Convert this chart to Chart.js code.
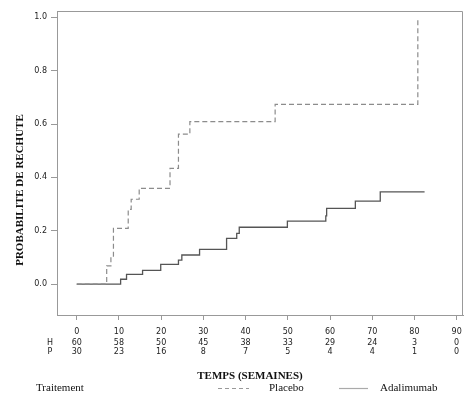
<!DOCTYPE html>
<html>
<head>
<meta charset="utf-8">
<script src="https://cdn.jsdelivr.net/npm/chart.js@4"></script>
<style>
  html, body { margin: 0; padding: 0; background: #fff; }
  canvas { display: block; }
</style>
</head>
<body>
<canvas id="kmChart" width="473" height="396"></canvas>
<script>
// données (temps en semaines, probabilité cumulée)
const placeboT = [0, 7.1, 8.1, 8.7, 12.2, 12.9, 14.8, 22.1, 24.1, 26.8, 47.0, 80.8];
const placeboP = [0, 0.068, 0.102, 0.209, 0.28, 0.318, 0.359, 0.434, 0.562, 0.609, 0.674, 1.0];

const adaT = [0, 10.4, 11.8, 15.6, 19.9, 24.1, 24.9, 29.1, 35.5, 37.9, 38.5, 49.9, 59.0, 59.2, 66.0, 71.9, 82.4];
const adaP = [0, 0.018, 0.036, 0.051, 0.074, 0.09, 0.109, 0.130, 0.171, 0.19, 0.213, 0.236, 0.256, 0.284, 0.311, 0.346, 0.346];

// ticks + effectifs à risque
const xTicks = [0, 10, 20, 30, 40, 50, 60, 70, 80, 90];
const yTicks = [0, 0.2, 0.4, 0.6, 0.8, 1.0];
const riskH = [60, 58, 50, 45, 38, 33, 29, 24, 3, 0];
const riskP = [30, 23, 16, 8, 7, 5, 4, 4, 1, 0];

const tickFont = { family: "DejaVu Sans", size: 8 };
const serif = "'Liberation Serif', 'DejaVu Serif', serif";

// ======= cadre, titres, tableau, légende =======
const extras = {
    id: "extras",
    afterDraw(chart) {
        const c = chart.ctx;
        const a = chart.chartArea;
        const xs = chart.scales.x;

        c.save();
        // cadre haut / droite
        c.strokeStyle = "#999";
        c.lineWidth = 1;
        c.beginPath();
        c.moveTo(a.left, a.top + 0.5);
        c.lineTo(a.right - 0.5, a.top + 0.5);
        c.lineTo(a.right - 0.5, a.bottom);
        c.stroke();

        // titre axe Y
        c.fillStyle = "#111";
        c.font = "bold 11px " + serif;
        c.textAlign = "center";
        c.textBaseline = "middle";
        c.save();
        c.translate(20, 190);
        c.rotate(-Math.PI / 2);
        c.fillText("PROBABILITE DE RECHUTE", 0, 0);
        c.restore();

        // tableau des sujets à risque
        c.font = "8px 'DejaVu Sans'";
        c.fillStyle = "#222";
        c.fillText("H", 50, 342.5);
        c.fillText("P", 50, 352);
        xTicks.forEach((t, i) => {
            const px = xs.getPixelForValue(t);
            c.fillText(String(riskH[i]), px, 342.5);
            c.fillText(String(riskP[i]), px, 352);
        });

        // titre axe X
        c.fillStyle = "#111";
        c.font = "bold 11px " + serif;
        c.fillText("TEMPS (SEMAINES)", 250, 376);

        // légende
        c.font = "11px " + serif;
        c.textAlign = "left";
        c.fillText("Traitement", 36, 388);
        c.fillText("Placebo", 269, 388);
        c.fillText("Adalimumab", 380, 388);

        c.strokeStyle = "#999";
        c.lineWidth = 1.2;
        c.setLineDash([4, 3]);
        c.beginPath();
        c.moveTo(218, 388.5);
        c.lineTo(249, 388.5);
        c.stroke();
        c.setLineDash([]);
        c.strokeStyle = "#aaa";
        c.beginPath();
        c.moveTo(339, 388.5);
        c.lineTo(368, 388.5);
        c.stroke();
        c.restore();
    }
};

new Chart(document.getElementById("kmChart"), {
    type: "line",
    data: {
        datasets: [
            {
                label: "Placebo",
                data: placeboT.map((t, i) => ({ x: t, y: placeboP[i] })),
                borderColor: "#8c8c8c",
                borderWidth: 1.2,
                borderDash: [5, 3],
                stepped: "before",
                pointRadius: 0,
                fill: false
            },
            {
                label: "Adalimumab",
                data: adaT.map((t, i) => ({ x: t, y: adaP[i] })),
                borderColor: "#555",
                borderWidth: 1.3,
                stepped: "before",
                pointRadius: 0,
                fill: false
            }
        ]
    },
    options: {
        responsive: false,
        animation: false,
        devicePixelRatio: 1,
        layout: { padding: { left: 0, right: 10, top: 11, bottom: 0 } },
        plugins: {
            legend: { display: false },
            tooltip: { enabled: false }
        },
        scales: {
            x: {
                type: "linear",
                min: -4.67,
                max: 91.5,
                afterBuildTicks: s => { s.ticks = xTicks.map(v => ({ value: v })); },
                afterFit: s => { s.height = 81; },
                ticks: { font: tickFont, color: "#222", padding: 7, maxRotation: 0 },
                grid: { drawOnChartArea: false, tickLength: 5, color: "#999" },
                border: { color: "#999" }
            },
            y: {
                min: -0.116,
                max: 1.024,
                afterBuildTicks: s => { s.ticks = yTicks.map(v => ({ value: v })); },
                afterFit: s => { s.width = 57; },
                ticks: { font: tickFont, color: "#222", padding: 4, callback: v => v.toFixed(1) },
                grid: { drawOnChartArea: false, tickLength: 6, color: "#999" },
                border: { color: "#999" }
            }
        }
    },
    plugins: [extras]
});
</script>
</body>
</html>
